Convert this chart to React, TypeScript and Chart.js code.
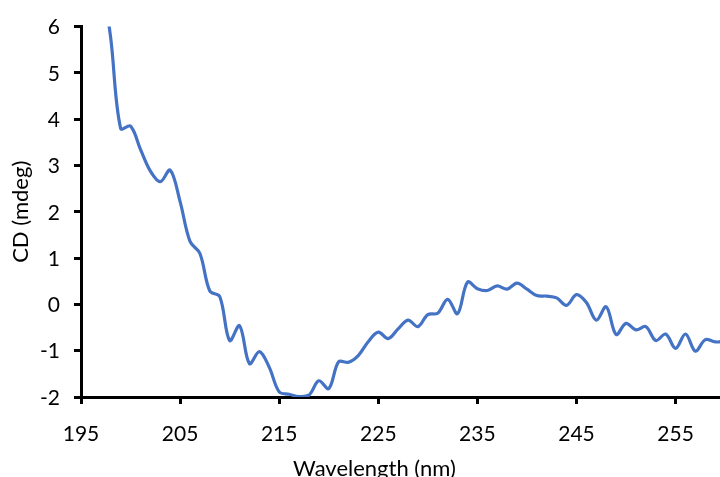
import { useEffect, useRef } from "react";
import { Chart, registerables } from "chart.js";

Chart.register(...registerables);

// Circular dichroism spectrum, sampled every 1 nm
const wavelengths = [
  197, 198, 199, 200, 201, 202, 203, 204, 205, 206, 207, 208, 209, 210,
  211, 212, 213, 214, 215, 216, 217, 218, 219, 220, 221, 222, 223, 224,
  225, 226, 227, 228, 229, 230, 231, 232, 233, 234, 235, 236, 237, 238,
  239, 240, 241, 242, 243, 244, 245, 246, 247, 248, 249, 250, 251, 252,
  253, 254, 255, 256, 257, 258, 259, 260,
];

const cdValues = [
  7.2, 5.75, 3.8, 3.85, 3.35, 2.88, 2.65, 2.9, 2.22, 1.36, 1.1, 0.29, 0.17, -0.78,
  -0.46, -1.28, -1.02, -1.36, -1.89, -1.94, -1.99, -1.96, -1.65, -1.82, -1.24, -1.25, -1.1, -0.8,
  -0.6, -0.74, -0.53, -0.34, -0.48, -0.22, -0.19, 0.11, -0.2, 0.48, 0.34, 0.3, 0.4, 0.33,
  0.46, 0.33, 0.19, 0.18, 0.14, -0.02, 0.21, 0.04, -0.34, -0.05, -0.65, -0.41, -0.55, -0.48,
  -0.78, -0.64, -0.95, -0.64, -1.01, -0.76, -0.81, -0.8,
];

const xTickValues = [195, 205, 215, 225, 235, 245, 255];
const xRange = [195, 261.5];
const yRange = [-2, 6];

const X_TITLE = "Wavelength (nm)";
const Y_TITLE = "CD (mdeg)";

const FONT = "Lato";
const INK = "#000000";
const LINE_BLUE = "#4472C4";

// Draws the horizontal axis caption under the tick labels
const xTitlePlugin = {
  id: "xAxisCaption",
  afterDraw(chart: any) {
    const { ctx, chartArea } = chart;
    ctx.save();
    ctx.font = `22px ${FONT}`;
    ctx.fillStyle = INK;
    ctx.textAlign = "center";
    ctx.textBaseline = "alphabetic";
    ctx.fillText(X_TITLE, chartArea.left + 293.5, chartArea.bottom + 79);
    ctx.restore();
  },
};

export default function App() {
  const canvasRef = useRef<HTMLCanvasElement | null>(null);

  useEffect(() => {
    const canvas = canvasRef.current;
    if (!canvas) return;

    const points = wavelengths.map((w, i) => ({ x: w, y: cdValues[i] }));

    const chart = new Chart(canvas, {
      type: "line",
      data: {
        datasets: [
          {
            data: points,
            borderColor: LINE_BLUE,
            borderWidth: 3.2,
            pointRadius: 0,
            tension: 0.35,
            fill: false,
          },
        ],
      },
      options: {
        animation: false,
        responsive: false,
        devicePixelRatio: 1,
        layout: { padding: { top: 20, left: 0, right: 1, bottom: 0 } },
        plugins: {
          legend: { display: false },
          tooltip: { enabled: false },
        },
        scales: {
          x: {
            type: "linear",
            min: xRange[0],
            max: xRange[1],
            afterBuildTicks: (scale: any) => {
              scale.ticks = xTickValues.map((v) => ({ value: v }));
            },
            afterFit: (scale: any) => {
              scale.height = 80;
            },
            grid: {
              drawOnChartArea: false,
              drawTicks: true,
              tickLength: 7,
              tickWidth: 3,
              tickColor: INK,
            },
            border: { display: true, color: INK, width: 3 },
            ticks: {
              color: INK,
              font: { family: FONT, size: 21 },
              padding: 18,
              maxRotation: 0,
              autoSkip: false,
            },
          },
          y: {
            type: "linear",
            min: yRange[0],
            max: yRange[1],
            afterFit: (scale: any) => {
              scale.width = 81;
            },
            grid: {
              drawOnChartArea: false,
              drawTicks: true,
              tickLength: 7,
              tickWidth: 3,
              tickColor: INK,
            },
            border: { display: true, color: INK, width: 3 },
            ticks: {
              stepSize: 1,
              color: INK,
              font: { family: FONT, size: 21 },
              padding: 14,
              labelOffset: 1,
            },
            title: {
              display: true,
              text: Y_TITLE,
              color: INK,
              font: { family: FONT, size: 22 },
              padding: { top: 8, bottom: 0 },
            },
          },
        },
      },
      plugins: [xTitlePlugin],
    });

    return () => chart.destroy();
  }, []);

  return (
    <div
      style={{
        position: "fixed",
        left: 0,
        top: 0,
        width: 720,
        height: 477,
        overflow: "hidden",
        background: "#ffffff",
      }}
    >
      <canvas ref={canvasRef} width={741} height={477} />
    </div>
  );
}
